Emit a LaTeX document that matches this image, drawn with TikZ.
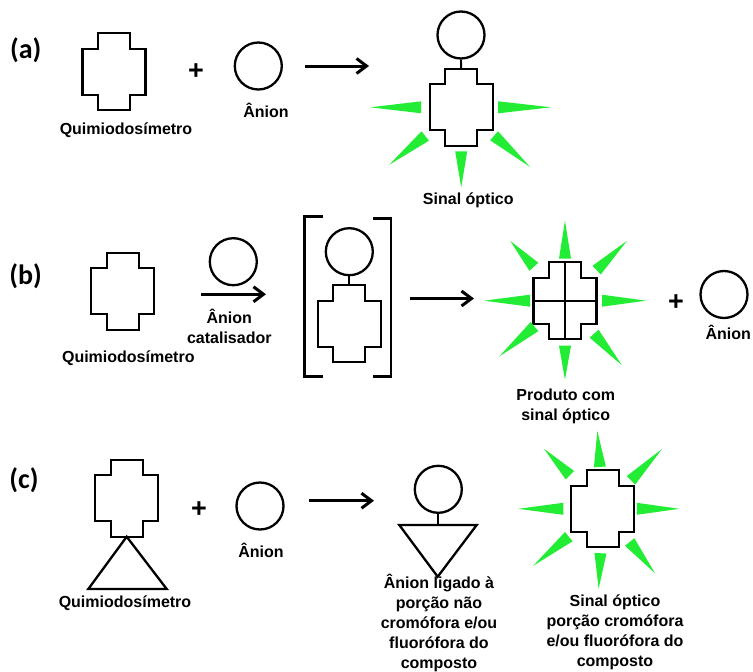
\documentclass[tikz,border=0pt]{standalone}
\usepackage{fontspec}
\setmainfont{Liberation Sans}
\newfontfamily\panelfont{Carlito}
\usetikzlibrary{arrows.meta,calc}
\definecolor{raycol}{RGB}{34,236,51}
\tikzset{
  shapeline/.style={draw=black,line width=2.3pt,line join=miter},
  anion/.style={circle,draw=black,line width=2.3pt,minimum size=47pt,inner sep=0pt},
  lbl/.style={font=\fontsize{16}{20}\selectfont\bfseries,inner sep=0pt,anchor=base,align=center},
  panel/.style={font=\panelfont\fontsize{28}{30}\selectfont\bfseries,inner sep=0pt,anchor=base},
  plussign/.style={font=\fontsize{27}{30}\selectfont\bfseries,inner sep=0pt},
  rxn/.style={line width=3pt,-{Straight Barb[length=10pt,width=15pt]}},
  link/.style={line width=1.9pt},
  bracketline/.style={line width=2.8pt},
  pics/xcross/.style={code={
    \draw[shapeline] (-16,-38.5) -- (16,-38.5) -- (16,-23) -- (31.5,-23) -- (31.5,23)
      -- (16,23) -- (16,38.5) -- (-16,38.5) -- (-16,23) -- (-31.5,23) -- (-31.5,-23)
      -- (-16,-23) -- cycle;
    \coordinate (-top) at (0,-38.5);
    \coordinate (-bottom) at (0,38.5);
    \coordinate (-left) at (-31.5,0);
    \coordinate (-right) at (31.5,0);
    \coordinate (-center) at (0,0);
  }}
}
\newcommand{\glow}[4]{\fill[raycol] ($(#1)+(#2:#3)+({#2+90}:6)$) -- ($(#1)+(#2:#4)$) -- ($(#1)+(#2:#3)+({#2-90}:6)$) -- cycle;}
\begin{document}
\begin{tikzpicture}[x=1pt,y=-1pt]
\useasboundingbox (0,0) rectangle (753,672);
% ---------------- (a)
\node[panel] (la) at (25.7,58.3) {(a)};
\pic (a1) at (114,71.7) {xcross};
\node[lbl] (qa) at (126,134) {Quimiodosímetro};
\node[plussign] (pa) at (196,71.5) {+};
\node[anion] (ana) at (258.3,66) {};
\node[lbl] (tana) at (266,117) {Ânion};
\coordinate (arA1) at (305,66);
\coordinate (arA2) at (369,66);
\draw[rxn] (arA1) -- (arA2);
\node[anion] (ana2) at (461,35) {};
\pic (a2) at (461.2,107.3) {xcross};
\draw[link] (ana2.south) -- (a2-top);
\glow{a2-center}{180}{40}{91}
\glow{a2-center}{0}{37}{90}
\glow{a2-center}{90}{44}{80}
\glow{a2-center}{141.4}{46}{92}
\glow{a2-center}{40.9}{43.5}{91}
\node[lbl] (sa) at (468.3,204.5) {Sinal óptico};
% ---------------- (b)
\node[panel] (lb) at (25.7,284) {(b)};
\pic (b1) at (122.7,291.3) {xcross};
\node[lbl] (qb) at (128.3,362) {Quimiodosímetro};
\node[anion] (anb) at (233.3,261.7) {};
\coordinate (arB1) at (201,294.3);
\coordinate (arB2) at (266,294.3);
\draw[rxn] (arB1) -- (arB2);
\node[lbl] (tanb) at (229.3,343) {Ânion\\catalisador};
\draw[bracketline] (323.3,216.7) -- (304.3,216.7) -- (304.3,376.7) -- (323.3,376.7);
\draw[bracketline] (373.3,218.3) -- (391,218.3) -- (391,376.7) -- (373.3,376.7);
\node[anion] (anb2) at (349.3,251.7) {};
\pic (b2) at (349.3,323.7) {xcross};
\draw[link] (anb2.south) -- (b2-top);
\coordinate (arB3) at (410,298.5);
\coordinate (arB4) at (474,298.5);
\draw[rxn] (arB3) -- (arB4);
\pic (b3) at (565,300.7) {xcross};
\draw[shapeline] (b3-top) -- (b3-bottom);
\draw[shapeline] (b3-left) -- (b3-right);
\glow{b3-center}{270}{42}{80}
\glow{b3-center}{90}{45}{79}
\glow{b3-center}{180}{35}{81}
\glow{b3-center}{0}{37}{81}
\glow{b3-center}{227.5}{46}{81}
\glow{b3-center}{316}{44}{86}
\glow{b3-center}{139.7}{40}{86}
\glow{b3-center}{48.6}{44}{86}
\node[lbl] (pb) at (565.7,420) {Produto com\\sinal óptico};
\node[plussign] (pb2) at (676,302.7) {+};
\node[anion] (anb3) at (724,294.5) {};
\node[lbl] (tanb3) at (728.3,339) {Ânion};
% ---------------- (c)
\node[panel] (lc) at (24,488.5) {(c)};
\pic (c1) at (126.7,498.2) {xcross};
\draw[shapeline] (c1-bottom) -- (88.3,589) -- (166.7,589) -- cycle;
\node[lbl] (qc) at (125,607) {Quimiodosímetro};
\node[plussign] (pc) at (199,510) {+};
\node[anion] (anc) at (260,506) {};
\node[lbl] (tanc) at (261,557) {Ânion};
\coordinate (arC1) at (309,500.7);
\coordinate (arC2) at (374,500.7);
\draw[rxn] (arC1) -- (arC2);
\node[anion] (anc2) at (438.3,489.3) {};
\coordinate (tri2top) at (438.3,525);
\draw[link] (anc2.south) -- (tri2top);
\draw[shapeline] (399.3,525) -- (476.7,525) -- (437.7,576.7) -- cycle;
\node[lbl] (tc2) at (439,668) {Ânion ligado à\\porção não\\cromófora e/ou\\fluorófora do\\composto};
\pic (c3) at (602.8,508.8) {xcross};
\glow{c3-center}{266}{42}{78}
\glow{c3-center}{93}{44.5}{80}
\glow{c3-center}{180}{39.5}{84.5}
\glow{c3-center}{0}{34}{76.5}
\glow{c3-center}{225.6}{47}{84}
\glow{c3-center}{314.7}{40}{84}
\glow{c3-center}{140.7}{44}{90}
\glow{c3-center}{51}{42.7}{83}
\node[lbl] (tc3) at (615,666) {Sinal óptico\\porção cromófora\\e/ou fluorófora do\\composto};
\end{tikzpicture}
\end{document}
